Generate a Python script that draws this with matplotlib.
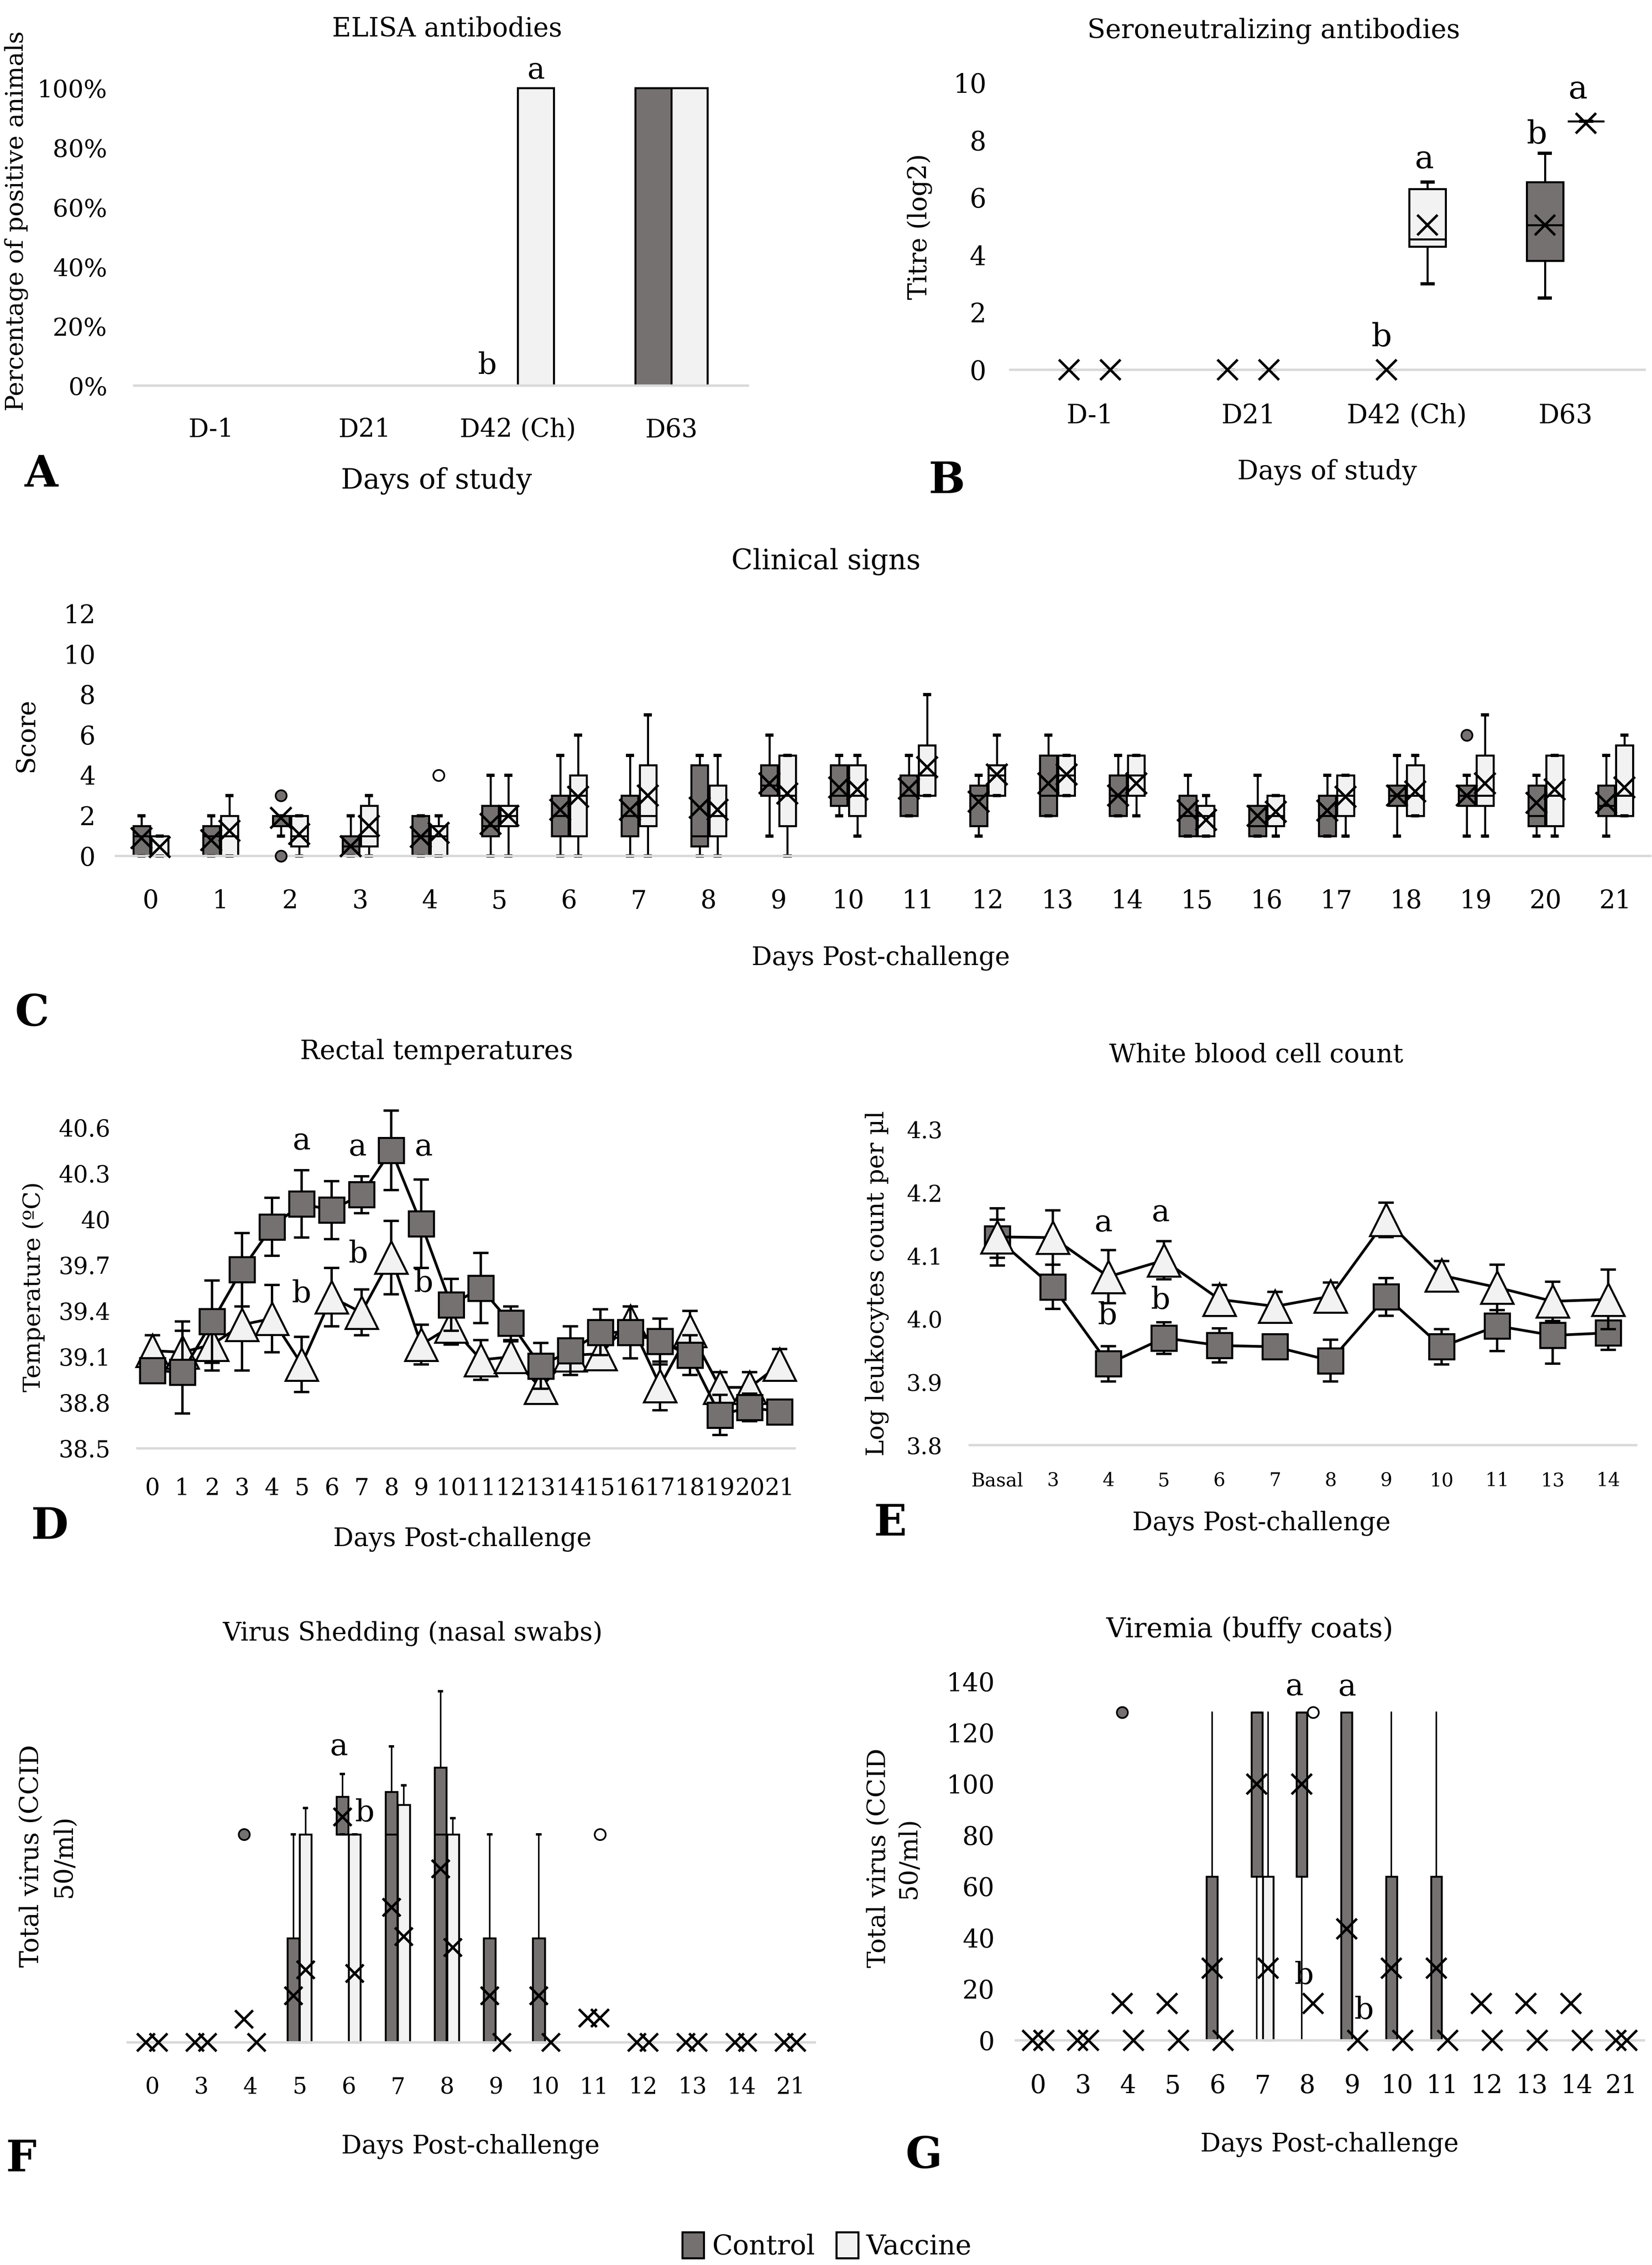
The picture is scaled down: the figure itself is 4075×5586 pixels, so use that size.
import numpy as np
import matplotlib
matplotlib.use('Agg')
import matplotlib.pyplot as plt
from matplotlib.patches import Patch

plt.rcParams['font.family'] = 'DejaVu Serif'

#%% Data
# A - ELISA
elisa_days = ['D-1', 'D21', 'D42 (Ch)', 'D63']
elisa_control = [0, 0, 0, 100]
elisa_vaccine = [0, 0, 100, 100]
elisa_ticks = [0, 20, 40, 60, 80, 100]

# B - seroneutralizing titres (box stats)
sn_days = ['D-1', 'D21', 'D42 (Ch)', 'D63']
sn_ctrl_lo = [0, 0, 0, 2.5]
sn_ctrl_q1 = [0, 0, 0, 3.8]
sn_ctrl_med = [0, 0, 0, 5.05]
sn_ctrl_q3 = [0, 0, 0, 6.55]
sn_ctrl_hi = [0, 0, 0, 7.55]
sn_ctrl_mean = [0, 0, 0, 5.05]
sn_vacc_lo = [0, 0, 3.0, 8.67]
sn_vacc_q1 = [0, 0, 4.3, 8.67]
sn_vacc_med = [0, 0, 4.55, 8.67]
sn_vacc_q3 = [0, 0, 6.3, 8.67]
sn_vacc_hi = [0, 0, 6.55, 8.67]
sn_vacc_mean = [0, 0, 5.05, 8.6]
sn_ticks = [0, 2, 4, 6, 8, 10]

# C - clinical score
cs_days = [str(d) for d in range(22)]
cs_ctrl_lo = [0, 0, 1, 0, 0, 0, 0, 0, 0, 1, 2, 2, 1, 2, 2, 1, 1, 1, 1, 1, 1, 1]
cs_ctrl_q1 = [0, 0, 1.5, 0, 0, 1, 1, 1, 0.5, 3, 2.5, 2, 1.5, 2, 2, 1, 1, 1, 2.5, 2.5, 1.5, 2]
cs_ctrl_med = [1, 1, 2, 0.5, 1, 1.5, 2, 2, 1, 3.5, 3, 3, 3, 3, 3, 2, 1.5, 2, 3, 3, 2, 2.5]
cs_ctrl_q3 = [1.5, 1.5, 2, 1, 2, 2.5, 3, 3, 4.5, 4.5, 4.5, 4, 3.5, 5, 4, 3, 2.5, 3, 3.5, 3.5, 3.5, 3.5]
cs_ctrl_hi = [2, 2, 2, 2, 2, 4, 5, 5, 5, 6, 5, 5, 4, 6, 5, 4, 4, 4, 5, 4, 4, 5]
cs_ctrl_mean = [0.9, 0.8, 1.9, 0.5, 0.95, 1.6, 2.3, 2.3, 2.4, 3.6, 3.4, 3.35, 2.7, 3.6, 3.0,
                2.25, 2.0, 2.25, 3.0, 3.0, 2.65, 2.65]
cs_ctrl_out = [[], [], [3, 0], [], [], [], [], [], [], [], [], [], [], [], [], [], [], [], [], [6], [], []]
cs_vacc_lo = [0, 0, 0, 0, 0, 0, 0, 0, 0, 0, 1, 3, 3, 3, 2, 1, 1, 1, 2, 1, 1, 2]
cs_vacc_q1 = [0, 0, 0.5, 0.5, 0, 1.5, 1, 1.5, 1, 1.5, 2, 3, 3, 3, 3, 1, 1.5, 2, 2, 2.5, 1.5, 2]
cs_vacc_med = [0, 1, 1, 1, 1, 2, 3, 2, 2, 3, 3, 4, 4, 4, 4, 2, 2, 3, 3, 3, 3, 3]
cs_vacc_q3 = [1, 2, 2, 2.5, 1.5, 2.5, 4, 4.5, 3.5, 5, 4.5, 5.5, 4.5, 5, 5, 2.5, 3, 4, 4.5, 5, 5, 5.5]
cs_vacc_hi = [1, 3, 2, 3, 2, 4, 6, 7, 5, 5, 5, 8, 6, 5, 5, 3, 3, 4, 5, 7, 5, 6]
cs_vacc_mean = [0.45, 1.25, 1.1, 1.5, 1.15, 2.0, 2.95, 3.0, 2.3, 3.1, 3.3, 4.4, 4.05, 4.05, 3.6,
                1.8, 2.2, 2.95, 3.2, 3.6, 3.3, 3.4]
cs_vacc_out = [[], [], [], [], [4], [], [], [], [], [], [], [], [], [], [], [], [], [], [], [], [], []]
cs_ticks = [0, 2, 4, 6, 8, 10, 12]

# D - rectal temperature (mean +/- error)
temp_days = [str(d) for d in range(22)]
temp_ctrl = [39.01, 39.00, 39.33, 39.67, 39.95, 40.10, 40.06, 40.16, 40.45, 39.97, 39.44,
             39.55, 39.32, 39.04, 39.14, 39.26, 39.26, 39.20, 39.11, 38.72, 38.77, 38.74]
temp_ctrl_err = [0.08, 0.27, 0.27, 0.24, 0.19, 0.22, 0.19, 0.12, 0.26, 0.29, 0.17,
                 0.23, 0.11, 0.15, 0.16, 0.15, 0.17, 0.15, 0.13, 0.13, 0.09, 0.05]
temp_vacc = [39.14, 39.13, 39.18, 39.31, 39.35, 39.05, 39.49, 39.39, 39.75, 39.18, 39.30,
             39.08, 39.10, 38.90, 39.11, 39.12, 39.33, 38.91, 39.27, 38.90, 38.90, 39.05]
temp_vacc_err = [0.10, 0.20, 0.17, 0.30, 0.22, 0.18, 0.19, 0.15, 0.24, 0.13, 0.12,
                 0.13, 0.10, 0.10, 0.10, 0.10, 0.10, 0.16, 0.13, 0.10, 0.10, 0.10]
temp_ticks = [38.5, 38.8, 39.1, 39.4, 39.7, 40.0, 40.3, 40.6]

# E - white blood cells
wbc_days = ['Basal', '3', '4', '5', '6', '7', '8', '9', '10', '11', '13', '14']
wbc_ctrl = [4.127, 4.051, 3.929, 3.970, 3.958, 3.956, 3.934, 4.035, 3.956, 3.989, 3.974, 3.978]
wbc_ctrl_err = [0.03, 0.035, 0.028, 0.025, 0.027, 0.01, 0.033, 0.03, 0.028, 0.04, 0.045, 0.027]
wbc_vacc = [4.130, 4.129, 4.067, 4.093, 4.031, 4.020, 4.036, 4.157, 4.069, 4.050, 4.028, 4.031]
wbc_vacc_err = [0.045, 0.043, 0.042, 0.03, 0.023, 0.023, 0.022, 0.027, 0.023, 0.036, 0.031, 0.047]
wbc_ticks = [3.8, 3.9, 4.0, 4.1, 4.2, 4.3]

# F - virus shedding (nasal swabs)
vs_days = ['0', '3', '4', '5', '6', '7', '8', '9', '10', '11', '12', '13', '14', '21']
vs_ctrl_lo = [0, 0, 0, 0, 128, 0, 0, 0, 0, 0, 0, 0, 0, 0]
vs_ctrl_q1 = [0, 0, 0, 0, 128, 0, 0, 0, 0, 0, 0, 0, 0, 0]
vs_ctrl_med = [0, 0, 0, 0, 128, 128, 128, 0, 0, 0, 0, 0, 0, 0]
vs_ctrl_q3 = [0, 0, 0, 64, 151, 154, 169, 64, 64, 0, 0, 0, 0, 0]
vs_ctrl_hi = [0, 0, 0, 128, 165, 182, 216, 128, 128, 0, 0, 0, 0, 0]
vs_ctrl_mean = [0, 0, 14.2, 28.6, 138.7, 83, 106.7, 28.6, 28.6, 14.9, 0, 0, 0, 0]
vs_ctrl_out = [[], [], [128], [], [], [], [], [], [], [], [], [], [], []]
vs_vacc_lo = [0] * 14
vs_vacc_q1 = [0] * 14
vs_vacc_med = [0] * 14
vs_vacc_q3 = [0, 0, 0, 128, 128, 146, 128, 0, 0, 0, 0, 0, 0, 0]
vs_vacc_hi = [0, 0, 0, 144, 128, 158, 138, 0, 0, 0, 0, 0, 0, 0]
vs_vacc_mean = [0, 0, 0, 44.6, 42.3, 65, 58.3, 0, 0, 14.9, 0, 0, 0, 0]
vs_vacc_out = [[], [], [], [], [], [], [], [], [], [128], [], [], [], []]

# G - viremia (buffy coats)
vir_days = ['0', '3', '4', '5', '6', '7', '8', '9', '10', '11', '12', '13', '14', '21']
vir_ctrl_lo = [0] * 14
vir_ctrl_q1 = [0, 0, 0, 0, 0, 64, 64, 0, 0, 0, 0, 0, 0, 0]
vir_ctrl_med = [0, 0, 0, 0, 0, 128, 128, 0, 0, 0, 0, 0, 0, 0]
vir_ctrl_q3 = [0, 0, 0, 0, 64, 128, 128, 128, 64, 64, 0, 0, 0, 0]
vir_ctrl_hi = [0, 0, 0, 0, 128, 128, 128, 128, 128, 128, 0, 0, 0, 0]
vir_ctrl_mean = [0, 0, 14.5, 14.5, 28.3, 100, 100, 43.5, 28.3, 28.3, 14.5, 14.5, 14.5, 0]
vir_ctrl_out = [[], [], [128], [], [], [], [], [], [], [], [], [], [], []]
vir_vacc_lo = [0] * 14
vir_vacc_q1 = [0] * 14
vir_vacc_med = [0] * 14
vir_vacc_q3 = [0, 0, 0, 0, 0, 64, 0, 0, 0, 0, 0, 0, 0, 0]
vir_vacc_hi = [0, 0, 0, 0, 0, 128, 0, 0, 0, 0, 0, 0, 0, 0]
vir_vacc_mean = [0, 0, 0, 0, 0, 28.3, 14.5, 0, 0, 0, 0, 0, 0, 0]
vir_vacc_out = [[], [], [], [], [], [], [128], [], [], [], [], [], [], []]
vir_ticks = [0, 20, 40, 60, 80, 100, 120, 140]

#%% Style / layout
CTRL = '#767171'
VACC = '#F2F2F2'
BASE = '#D9D9D9'
ZERO = '#BFBFBF'
W, H = 1144, 1568   # layout grid (reference scaled to 1144 px wide)

fig = plt.figure(figsize=(4075 / 300, 5586 / 300), dpi=300)


def make_ax(x0, x1, y_top, y_bot, anchor_a, anchor_b, n):
    (pa, va), (pb, vb) = anchor_a, anchor_b
    k = (pb - pa) / (vb - va)
    lo = va + (y_bot - pa) / k
    hi = va + (y_top - pa) / k
    ax = fig.add_axes([x0 / W, 1 - y_bot / H, (x1 - x0) / W, (y_bot - y_top) / H])
    ax.set_xlim(-0.5, n - 0.5)
    ax.set_ylim(lo, hi)
    for s in ax.spines.values():
        s.set_visible(False)
    ax.axhline(lo, color=BASE, lw=1.4, zorder=2.5, clip_on=False)
    ax.patch.set_alpha(0)
    return ax


def put(x, y, s, size, **kw):
    fig.text(x / W, 1 - y / H, s, fontsize=size, ha='center', va='center', **kw)


def boxes(ax, pos, lo, q1, med, q3, hi, mean, out, face, out_face, width, lw, wlw, ms,
          caps=True, capw=0.07):
    stats = []
    for i in range(len(pos)):
        stats.append(dict(whislo=lo[i], q1=q1[i], med=med[i], q3=q3[i], whishi=hi[i],
                          mean=mean[i], fliers=np.array(out[i], dtype=float)))
    art = ax.bxp(stats, positions=pos, widths=width, patch_artist=True, showmeans=True,
                 showcaps=caps, capwidths=capw, manage_ticks=False, zorder=2,
                 boxprops=dict(facecolor=face, edgecolor='black', linewidth=lw),
                 medianprops=dict(color='black', linewidth=lw),
                 whiskerprops=dict(color='black', linewidth=wlw),
                 capprops=dict(color='black', linewidth=wlw * 1.6),
                 meanprops=dict(marker='x', markeredgecolor='black', markersize=ms,
                                markeredgewidth=1.5),
                 flierprops=dict(marker='o', markerfacecolor=out_face, markeredgecolor='black',
                                 markersize=6.5, markeredgewidth=1.0))
    for i, top in enumerate(q3):
        if top == 0:
            art['boxes'][i].set_edgecolor(ZERO)
            art['medians'][i].set_color(ZERO)
            if caps:
                art['caps'][2 * i].set_color(ZERO)
                art['caps'][2 * i + 1].set_color(ZERO)
    for key in art:
        for a in art[key]:
            a.set_clip_on(False)
    for m in art['means']:
        m.set_zorder(4)
    for f in art['fliers']:
        f.set_zorder(4)
    return art


def line_series(ax, y, err, marker, face, ms, z):
    x = np.arange(len(y))
    ax.errorbar(x, y, yerr=err, fmt='none', ecolor='black', elinewidth=1.4,
                capsize=4.5, capthick=1.4, zorder=z)
    ax.plot(x, y, color='black', lw=1.6, marker=marker, ms=ms, mfc=face, mec='black',
            mew=1.2, zorder=z + 0.5, clip_on=False)


#%% A - ELISA
axA = make_ax(93, 518, 45, 267, (267, 0), (61, 100), 4)
xA = np.arange(len(elisa_days))
bw = 0.235
axA.bar(xA - bw / 2, elisa_control, bw, color=CTRL, edgecolor='black', lw=1.2, zorder=2)
axA.bar(xA + bw / 2, elisa_vaccine, bw, color=VACC, edgecolor='black', lw=1.2, zorder=2)
axA.set_xticks(xA, elisa_days)
axA.set_yticks(elisa_ticks, [f'{t}%' for t in elisa_ticks])
axA.tick_params(axis='x', length=0, labelsize=15, pad=19)
axA.tick_params(axis='y', length=0, labelsize=14.5, pad=16)
axA.text(2 + bw / 2, 106, 'a', fontsize=17.5, ha='center', va='center')
axA.text(1.8, 6.8, 'b', fontsize=17.5, ha='center', va='center')

#%% B - seroneutralizing
axB = make_ax(699.7, 1139, 45, 256, (256, 0), (57.4, 10), 4)
xB = np.arange(len(sn_days))
boxes(axB, xB - 0.13, sn_ctrl_lo, sn_ctrl_q1, sn_ctrl_med, sn_ctrl_q3, sn_ctrl_hi, sn_ctrl_mean,
      [[]] * 4, CTRL, CTRL, 0.23, 1.2, 1.2, 12)
boxes(axB, xB + 0.13, sn_vacc_lo, sn_vacc_q1, sn_vacc_med, sn_vacc_q3, sn_vacc_hi, sn_vacc_mean,
      [[]] * 4, VACC, 'white', 0.23, 1.2, 1.2, 12)
axB.set_xticks(xB, sn_days)
axB.set_yticks(sn_ticks)
axB.tick_params(axis='x', length=0, labelsize=15.5, pad=19.7)
axB.tick_params(axis='y', length=0, labelsize=15.5, pad=14.3)
for (bx, by, s) in [(2.11, 7.34, 'a'), (1.84, 1.13, 'b'), (2.82, 8.19, 'b'), (3.08, 9.77, 'a')]:
    axB.text(bx, by, s, fontsize=19, ha='center', va='center')

#%% C - clinical signs
axC = make_ax(80.2, 1142.8, 415, 592.7, (592.7, 0), (425, 12), 22)
xC = np.arange(len(cs_days))
boxes(axC, xC - 0.13, cs_ctrl_lo, cs_ctrl_q1, cs_ctrl_med, cs_ctrl_q3, cs_ctrl_hi, cs_ctrl_mean,
      cs_ctrl_out, CTRL, CTRL, 0.24, 1.2, 1.2, 12.5)
boxes(axC, xC + 0.13, cs_vacc_lo, cs_vacc_q1, cs_vacc_med, cs_vacc_q3, cs_vacc_hi, cs_vacc_mean,
      cs_vacc_out, VACC, 'white', 0.24, 1.2, 1.2, 12.5)
axC.set_xticks(xC, cs_days)
axC.set_yticks(cs_ticks)
axC.tick_params(axis='x', length=0, labelsize=15, pad=19.5)
axC.tick_params(axis='y', length=0, labelsize=15, pad=12)

#%% D - rectal temperature
axD = make_ax(95.2, 550.2, 760, 1002.8, (1002.8, 38.5), (780.5, 40.6), 22)
line_series(axD, temp_vacc, temp_vacc_err, '^', VACC, 19, 3)
line_series(axD, temp_ctrl, temp_ctrl_err, 's', CTRL, 15, 5)
axD.set_xticks(np.arange(len(temp_days)), temp_days)
axD.set_yticks(temp_ticks, [f'{t:g}' for t in temp_ticks])
axD.tick_params(axis='x', length=0, labelsize=13.8, pad=17)
axD.tick_params(axis='y', length=0, labelsize=13.8, pad=16)
for (dx, dy, s) in [(4.99, 40.51, 'a'), (6.87, 40.47, 'a'), (9.08, 40.47, 'a'),
                    (4.99, 39.51, 'b'), (6.9, 39.77, 'b'), (9.08, 39.58, 'b')]:
    axD.text(dx, dy, s, fontsize=18, ha='center', va='center', zorder=7)

#%% E - white blood cells
axE = make_ax(671.4, 1133, 770, 1000.5, (1000.5, 3.8), (782, 4.3), 12)
line_series(axE, wbc_ctrl, wbc_ctrl_err, 's', CTRL, 15, 3)
line_series(axE, wbc_vacc, wbc_vacc_err, '^', VACC, 19, 5)
axE.set_xticks(np.arange(len(wbc_days)), wbc_days)
axE.set_yticks(wbc_ticks, [f'{t:.1f}' for t in wbc_ticks])
axE.tick_params(axis='x', length=0, labelsize=11.2, pad=15.8)
axE.tick_params(axis='y', length=0, labelsize=13.4, pad=16)
for (ex, ey, s) in [(1.91, 4.152, 'a'), (2.94, 4.168, 'a'), (1.98, 4.005, 'b'), (2.94, 4.029, 'b')]:
    axE.text(ex, ey, s, fontsize=18, ha='center', va='center', zorder=7)

#%% F - virus shedding
axF = make_ax(88.4, 564.3, 1150, 1413.9, (1413.9, 0), (1269.8, 128), 14)
xF = np.arange(len(vs_days))
boxes(axF, xF - 0.125, vs_ctrl_lo, vs_ctrl_q1, vs_ctrl_med, vs_ctrl_q3, vs_ctrl_hi, vs_ctrl_mean,
      vs_ctrl_out, CTRL, CTRL, 0.24, 1.1, 0.9, 10.5, caps=True, capw=0.06)
boxes(axF, xF + 0.125, vs_vacc_lo, vs_vacc_q1, vs_vacc_med, vs_vacc_q3, vs_vacc_hi, vs_vacc_mean,
      vs_vacc_out, VACC, 'white', 0.24, 1.1, 0.9, 10.5, caps=True, capw=0.06)
axF.set_xticks(xF, vs_days)
axF.set_yticks([])
axF.tick_params(axis='x', length=0, labelsize=13.5, pad=20)
axF.text(3.8, 181.7, 'a', fontsize=18, ha='center', va='center')
axF.text(4.33, 141, 'b', fontsize=18, ha='center', va='center')

#%% G - viremia
axG = make_ax(703.4, 1138.3, 1150, 1412.6, (1412.6, 0), (1164.2, 140), 14)
xG = np.arange(len(vir_days))
boxes(axG, xG - 0.125, vir_ctrl_lo, vir_ctrl_q1, vir_ctrl_med, vir_ctrl_q3, vir_ctrl_hi,
      vir_ctrl_mean, vir_ctrl_out, CTRL, CTRL, 0.24, 1.1, 0.9, 12, caps=False)
boxes(axG, xG + 0.125, vir_vacc_lo, vir_vacc_q1, vir_vacc_med, vir_vacc_q3, vir_vacc_hi,
      vir_vacc_mean, vir_vacc_out, VACC, 'white', 0.24, 1.1, 0.9, 12, caps=False)
axG.set_xticks(xG, vir_days)
axG.set_yticks(vir_ticks)
axG.tick_params(axis='x', length=0, labelsize=15, pad=19.7)
axG.tick_params(axis='y', length=0, labelsize=15, pad=12.5)
for (gx, gy, s) in [(5.71, 138, 'a'), (6.88, 137.8, 'a'), (5.93, 25.3, 'b'), (7.27, 11.7, 'b')]:
    axG.text(gx, gy, s, fontsize=18, ha='center', va='center', zorder=7)

#%% Titles, axis labels, panel letters
put(309.5, 20.3, 'ELISA antibodies', 15.5)
put(882, 21.4, 'Seroneutralizing antibodies', 15.7)
put(572, 389, 'Clinical signs', 16.5)
put(302.4, 728, 'Rectal temperatures', 15.5)
put(870, 730.5, 'White blood cell count', 15.3)
put(286, 1130.8, 'Virus Shedding (nasal swabs)', 15)
put(865.5, 1128.3, 'Viremia (buffy coats)', 16)

put(302.3, 333, 'Days of study', 16.5)
put(919, 327, 'Days of study', 15.5)
put(610, 663.4, 'Days Post-challenge', 15)
put(320.3, 1065.4, 'Days Post-challenge', 15)
put(873.6, 1054.7, 'Days Post-challenge', 15)
put(325.8, 1485.9, 'Days Post-challenge', 15)
put(920.6, 1484.6, 'Days Post-challenge', 15)

put(11.5, 153, 'Percentage of positive animals', 14.5, rotation=90)
put(637, 157, 'Titre (log2)', 15, rotation=90)
put(18.4, 508.9, 'Score', 15, rotation=90)
put(23.4, 890.8, 'Temperature (ºC)', 14, rotation=90)
put(607.3, 888.4, 'Log leukocytes count per µl', 14.5, rotation=90)
put(33.1, 1285, 'Total virus (CCID\n50/ml)', 15, rotation=90, linespacing=1.42)
put(618.7, 1286.4, 'Total virus (CCID\n50/ml)', 14.8, rotation=90, linespacing=1.3)

for (lx, ly, s) in [(28.8, 328.5, 'A'), (655.5, 333, 'B'), (22, 701.6, 'C'), (34.2, 1057, 'D'),
                    (616.4, 1054.7, 'E'), (14.9, 1495, 'F'), (639.8, 1492.4, 'G')]:
    put(lx, ly, s, 25.5, fontweight='bold')

handles = [Patch(facecolor=CTRL, edgecolor='black', lw=1.2),
           Patch(facecolor=VACC, edgecolor='black', lw=1.2)]
fig.legend(handles, ['Control', 'Vaccine'], loc='center', bbox_to_anchor=(572.6 / W, 1 - 1555 / H),
           ncol=2, frameon=False, fontsize=16, handlelength=0.8, handleheight=1.1,
           handletextpad=0.3, columnspacing=0.8)

fig.savefig('out.png', dpi=300)
